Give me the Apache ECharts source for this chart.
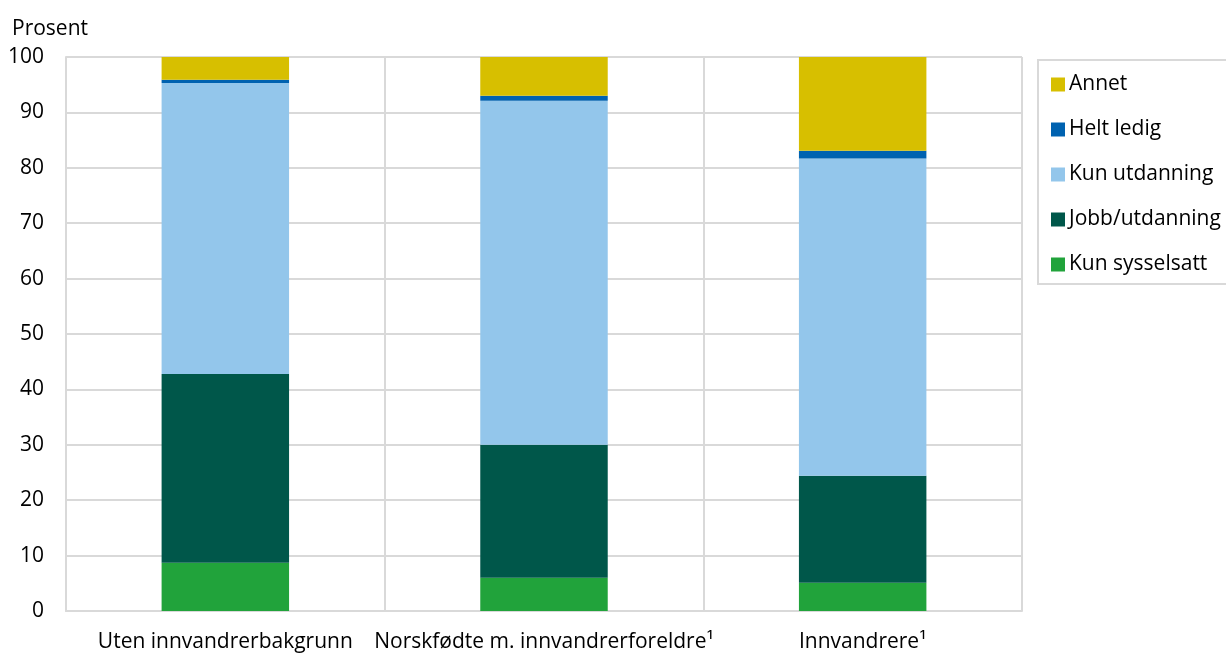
<!DOCTYPE html>
<html><head><meta charset="utf-8">
<script src="https://cdn.jsdelivr.net/npm/echarts@6/dist/echarts.min.js"></script>
<style>html,body{margin:0;padding:0;background:#fff}#c{width:1226px;height:653px}</style>
</head><body><div id="c"></div>
<script>
const categories = ['Uten innvandrerbakgrunn', 'Norskfødte m. innvandrerforeldre¹', 'Innvandrere¹'];
const kunSysselsatt = [8.7, 6.0, 5.1];
const jobbUtdanning = [34.1, 24.0, 19.3];
const kunUtdanning = [52.5, 62.1, 57.3];
const heltLedig = [0.6, 0.9, 1.4];
const annet = [4.1, 7.0, 16.9];
const yTicks = [0, 10, 20, 30, 40, 50, 60, 70, 80, 90, 100];

const font = 'Open Sans';
const chart = echarts.init(document.getElementById('c'));
const mk = (name, data, color) => ({name, type:'bar', stack:'a', data, barWidth:'40%', itemStyle:{color}});
chart.setOption({
  animation:false,
  textStyle:{fontFamily:font},
  grid:{left:66, right:204, top:57, bottom:42, containLabel:false, outerBoundsMode:'none'},
  legend:{
    orient:'vertical', left:1038, top:60,
    data:['Annet','Helt ledig','Kun utdanning','Jobb/utdanning','Kun sysselsatt'],
    icon:'rect', itemWidth:14, itemHeight:14, itemGap:24,
    padding:[14,40,9,13],
    borderColor:'#d9d9d9', borderWidth:2,
    textStyle:{fontFamily:font, fontSize:21, color:'#000', padding:[0,0,0,-1]}
  },
  xAxis:{type:'category', data:categories,
    axisTick:{show:false},
    axisLine:{lineStyle:{color:'#d9d9d9', width:2}},
    axisLabel:{color:'#000', fontSize:21, fontFamily:font, margin:21, interval:0},
    splitLine:{show:true, lineStyle:{color:'#d9d9d9', width:2}}
  },
  yAxis:{type:'value', min:yTicks[0], max:yTicks[yTicks.length-1], interval:10,
    name:'Prosent', nameLocation:'end', nameGap:17,
    nameTextStyle:{color:'#000', fontSize:21, fontFamily:font, align:'left', padding:[0,0,0,-54]},
    axisLine:{show:true, lineStyle:{color:'#d9d9d9', width:2}},
    axisTick:{show:false},
    axisLabel:{color:'#000', fontSize:21, fontFamily:font, margin:22},
    splitLine:{lineStyle:{color:'#d9d9d9', width:2}}
  },
  series:[
    mk('Kun sysselsatt', kunSysselsatt, '#21a33b'),
    mk('Jobb/utdanning', jobbUtdanning, '#00574a'),
    mk('Kun utdanning', kunUtdanning, '#93c6eb'),
    mk('Helt ledig', heltLedig, '#0062b0'),
    mk('Annet', annet, '#d7bf00')
  ]
});
</script></body></html>
